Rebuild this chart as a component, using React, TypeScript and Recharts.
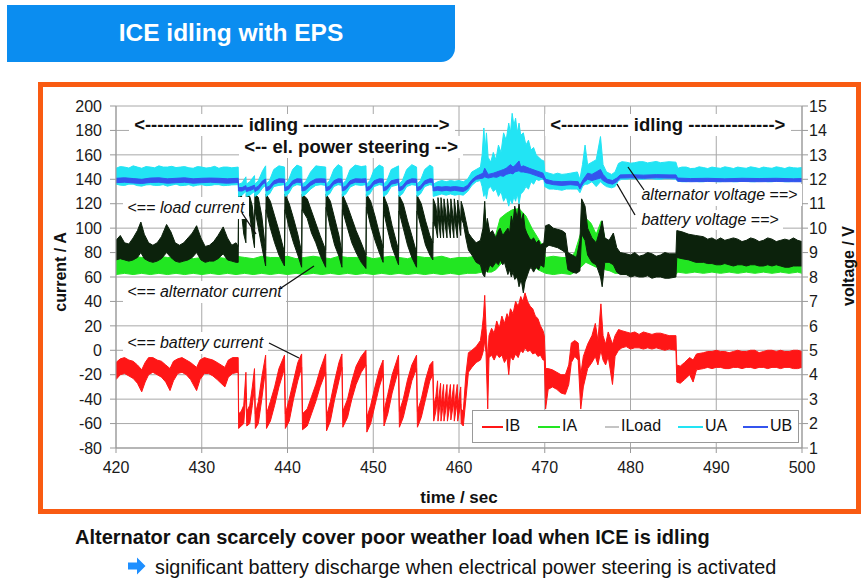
import { Area, CartesianGrid, ComposedChart, XAxis, YAxis } from "recharts"

// each row: [time s, low, high] of the noisy trace envelope
const ibBand = [
  [420, -24, -10], [420.5, -20, -7], [421, -19, -6], [421.5, -21, -8], [422, -23, -9], [422.5, -27, -12],
  [423, -34, -16], [423.4, -26, -10], [423.8, -20, -6], [424.3, -18, -6], [424.8, -20, -8], [425.3, -22, -9],
  [425.8, -26, -12], [426.3, -33, -15], [426.7, -25, -9], [427.2, -19, -7], [427.7, -18, -6], [428.2, -20, -8],
  [428.7, -24, -10], [429.4, -33, -14], [429.8, -24, -8], [430.3, -19, -6], [430.8, -19, -7], [431.3, -21, -8],
  [431.8, -24, -10], [432.7, -30, -14], [433.1, -22, -8], [433.6, -19, -6], [434.25, -18, -6],
  [434.3, -64, -52], [434.6, -62, -50], [434.9, -60, -45], [435.15, -35, -18],
  [435.25, -62, -50], [435.6, -60, -45], [435.9, -45, -30], [436.15, -30, -15],
  [436.25, -64, -52], [436.6, -60, -42], [437, -40, -22], [437.45, -15, -4],
  [437.55, -64, -52], [438, -58, -42], [438.5, -45, -30], [439, -30, -15], [439.65, -15, -4],
  [439.75, -64, -52], [440.2, -58, -40], [440.7, -40, -25], [441.2, -25, -10], [441.65, -14, -3],
  [441.75, -65, -52], [442.3, -62, -48], [442.8, -52, -38], [443.3, -42, -28], [443.8, -30, -16], [444.45, -18, -3],
  [444.55, -66, -54], [445, -58, -42], [445.5, -40, -25], [446, -25, -10], [446.35, -14, -3],
  [446.45, -63, -50], [447, -55, -40], [447.5, -40, -25], [448, -28, -13], [448.6, -18, -5], [449.15, -12, 0],
  [449.25, -67, -55], [449.7, -60, -45], [450.2, -45, -30], [450.7, -30, -16], [451.15, -20, -8],
  [451.25, -62, -50], [451.7, -52, -36], [452.2, -35, -20], [452.95, -16, -4],
  [453.05, -63, -50], [453.5, -55, -40], [454, -40, -24], [454.5, -25, -12], [455.05, -15, -4],
  [455.15, -63, -50], [455.6, -55, -40], [456.1, -40, -24], [456.6, -25, -12], [456.95, -20, -9],
  [457.05, -58, -45], [457.3, -50, -38], [457.5, -38, -25], [457.55, -58, -45], [457.85, -40, -27],
  [457.9, -58, -46], [458.2, -42, -28], [458.25, -58, -46], [458.6, -42, -28], [458.65, -58, -46],
  [459, -42, -28], [459.05, -57, -45], [459.4, -42, -28], [459.45, -58, -46], [459.8, -42, -28],
  [459.85, -58, -46], [460.2, -44, -30], [460.25, -60, -48], [460.5, -62, -50], [460.8, -40, -20],
  [461.1, -18, -2], [461.5, -14, 0], [462, -10, 3], [462.5, -8, 8], [462.7, -4, 18], [462.85, 0, 28],
  [463, 8, 45], [463.15, -2, 18], [463.35, -48, -8], [463.5, -6, 12], [463.8, -4, 18], [464.1, -8, 14],
  [464.4, -3, 24], [464.7, -6, 18], [465, -4, 28], [465.3, -10, 22], [465.6, -6, 30], [465.8, -20, 26],
  [466, -5, 34], [466.3, -8, 30], [466.6, -3, 40], [466.9, -6, 36], [467.2, 0, 44], [467.45, -2, 40],
  [467.7, 2, 47], [468, -1, 40], [468.3, 0, 36], [468.6, -3, 34], [468.9, -2, 28], [469.2, -5, 26],
  [469.5, -4, 20], [469.8, -8, 16], [469.95, -8, 12],
  [470.1, -48, -15], [470.4, -32, -15], [470.9, -30, -16], [471.4, -32, -18], [471.9, -35, -20],
  [472.4, -36, -20], [472.8, -28, -12], [473.1, -10, 6], [473.5, -5, 8], [473.9, -8, 6],
  [474.2, -48, -20], [474.5, -30, -5], [475, -15, 5], [475.5, -10, 12], [475.9, -5, 22], [476.2, -12, 8],
  [476.55, 0, 38], [476.8, -8, 12], [477.1, -12, 5], [477.4, -5, 15], [477.9, -28, 5], [478.2, -5, 12],
  [478.6, 0, 17], [479, 2, 16], [479.5, 3, 15], [480, 1, 14], [480.5, 2, 15], [481, 2, 13], [481.5, 1, 15],
  [482, 2, 14], [482.5, 1, 13], [483, 2, 14], [483.5, 1, 14], [484, 0, 13], [484.5, 1, 12], [485.3, 0, 12],
  [485.4, -26, -12], [485.8, -27, -13], [486.3, -24, -10], [486.9, -20, -6], [487.3, -26, -8],
  [487.7, -16, -3], [488.5, -15, -2], [489, -14, -1], [489.5, -15, -1], [490, -14, 0], [490.5, -14, -1],
  [491, -15, -1], [491.5, -15, -2], [492, -14, -1], [492.5, -14, 0], [493, -15, -1], [493.5, -14, -1],
  [494, -14, 0], [494.5, -15, 0], [495, -14, -2], [495.5, -14, -1], [496, -15, 0], [496.5, -14, 0],
  [497, -14, -1], [497.5, -15, 0], [498, -14, -1], [498.5, -14, -1], [499, -15, 0], [499.5, -15, 0], [500, -14, -1],
]

const iaBand = [
  [420, 62, 76], [421, 63, 75], [422, 62, 77], [423, 63, 76], [424, 62, 75], [425, 63, 77], [426, 62, 76],
  [427, 63, 76], [428, 62, 77], [429, 63, 75], [430, 62, 76], [431, 63, 77], [432, 62, 76], [433, 63, 75],
  [434, 62, 77], [435, 63, 76], [436, 62, 75], [437, 63, 77], [438, 62, 76], [439, 63, 76], [440, 62, 77],
  [441, 63, 75], [442, 62, 76], [443, 63, 77], [444, 62, 76], [445, 63, 75], [446, 62, 77], [447, 63, 76],
  [448, 62, 76], [449, 63, 77], [450, 62, 75], [451, 63, 76], [452, 62, 77], [453, 63, 76], [454, 62, 75],
  [455, 63, 77], [456, 62, 76], [457, 63, 76], [458, 62, 77], [459, 63, 75], [460, 62, 76], [461, 63, 76],
  [462, 63, 77], [462.7, 64, 80], [463, 66, 115], [463.3, 64, 90], [463.8, 64, 85], [464.3, 66, 95],
  [464.8, 70, 108], [465.5, 75, 112], [466.2, 78, 115], [467, 76, 116], [467.8, 74, 110], [468.5, 70, 100],
  [469.2, 66, 92], [469.8, 64, 85], [470.1, 63, 76], [471, 62, 77], [472, 63, 76], [473, 62, 76],
  [473.5, 64, 80], [474.2, 68, 96], [474.8, 72, 108], [475.4, 70, 104], [476, 68, 95], [476.6, 70, 106],
  [477, 66, 92], [477.6, 65, 86], [478.2, 63, 82], [478.8, 63, 77], [479.5, 62, 76], [480.5, 63, 77],
  [481.5, 62, 75], [482.5, 63, 76], [483.5, 62, 77], [484.5, 63, 76], [485.3, 62, 76], [485.5, 64, 78],
  [486.5, 63, 77], [487.5, 64, 78], [488.5, 63, 76], [489.5, 64, 77], [490.5, 63, 78], [491.5, 64, 77],
  [492.5, 63, 76], [493.5, 64, 78], [494.5, 63, 77], [495.5, 64, 76], [496.5, 63, 78], [497.5, 64, 77],
  [498.5, 63, 76], [499.5, 64, 78], [500, 63, 77],
]

const iloadBand = [
  [420, 74, 90], [420.5, 75, 94], [421, 74, 88], [421.5, 73, 87], [422, 74, 92], [422.5, 76, 98],
  [422.9, 80, 105], [423.3, 75, 95], [423.8, 73, 88], [424.3, 72, 86], [424.8, 73, 88], [425.3, 75, 93],
  [425.9, 80, 103], [426.4, 76, 97], [426.9, 73, 88], [427.4, 72, 86], [427.9, 73, 88], [428.4, 74, 92],
  [428.9, 76, 96], [429.4, 80, 102], [429.9, 74, 92], [430.4, 72, 85], [430.9, 73, 86], [431.4, 73, 89],
  [431.9, 75, 94], [432.5, 79, 101], [433, 74, 92], [433.5, 73, 86], [434, 72, 88], [434.25, 72, 85],
  [434.3, 118, 128], [434.6, 115, 127], [434.9, 95, 120], [435.15, 88, 105],
  [435.2, 115, 128], [435.6, 110, 126], [435.9, 95, 118], [436.15, 84, 100],
  [436.2, 115, 128], [436.6, 100, 125], [437, 85, 110], [437.45, 69, 82],
  [437.5, 115, 128], [438, 100, 122], [438.5, 88, 110], [439, 78, 98], [439.65, 69, 80],
  [439.7, 115, 128], [440.2, 100, 120], [440.7, 88, 108], [441.2, 78, 95], [441.65, 68, 80],
  [441.7, 115, 128], [442.3, 108, 124], [442.8, 96, 114], [443.3, 88, 104], [443.8, 78, 94], [444.45, 68, 82],
  [444.5, 117, 128], [445, 100, 122], [445.5, 86, 108], [446, 77, 94], [446.35, 68, 80],
  [446.4, 115, 128], [447, 100, 118], [447.5, 88, 108], [448, 80, 98], [448.6, 72, 88], [449.15, 67, 78],
  [449.2, 117, 128], [449.7, 102, 122], [450.2, 90, 110], [450.7, 80, 96], [451.15, 72, 84],
  [451.2, 114, 127], [451.7, 98, 118], [452.2, 84, 102], [452.95, 70, 82],
  [453, 114, 127], [453.5, 100, 120], [454, 86, 106], [454.5, 76, 94], [455.05, 68, 80],
  [455.1, 114, 127], [455.6, 100, 120], [456.1, 86, 106], [456.6, 78, 94], [456.95, 74, 88],
  [457, 105, 124], [457.3, 100, 118], [457.5, 92, 106], [457.55, 110, 125], [457.85, 92, 105],
  [457.9, 110, 125], [458.2, 92, 105], [458.25, 110, 124], [458.6, 92, 105], [458.65, 110, 124],
  [459, 92, 104], [459.05, 110, 124], [459.4, 92, 104], [459.45, 110, 124], [459.8, 92, 104],
  [459.85, 110, 123], [460.2, 94, 106], [460.25, 108, 122], [460.5, 104, 116], [460.8, 92, 106],
  [461.1, 82, 96], [461.5, 78, 92], [462, 72, 88], [462.5, 70, 90], [462.8, 62, 100], [463, 60, 122],
  [463.15, 68, 100], [463.3, 64, 108], [463.6, 70, 96], [463.9, 68, 98], [464.3, 72, 92], [464.6, 70, 98],
  [464.8, 74, 100], [465.1, 70, 94], [465.3, 72, 96], [465.7, 62, 100], [465.9, 66, 96], [466.1, 60, 110],
  [466.3, 64, 104], [466.5, 58, 118], [466.8, 60, 108], [467, 52, 120], [467.25, 58, 106], [467.5, 47, 112],
  [467.7, 56, 100], [467.9, 60, 96], [468.2, 66, 92], [468.4, 68, 90], [468.7, 64, 92], [469, 68, 88],
  [469.3, 66, 90], [469.5, 70, 86], [469.9, 68, 88],
  [470.1, 84, 102], [470.5, 86, 103], [471, 85, 100], [471.5, 84, 99], [472, 82, 98], [472.4, 80, 96],
  [472.7, 66, 80], [473.2, 64, 78], [473.7, 63, 76], [474.1, 65, 90], [474.3, 95, 124], [474.7, 90, 118],
  [475, 78, 100], [475.5, 72, 92], [476, 70, 88], [476.5, 60, 100], [476.7, 52, 106], [477, 72, 92],
  [477.5, 72, 90], [478, 70, 96], [478.4, 64, 84], [478.8, 62, 80], [479.5, 62, 79], [480, 60, 78],
  [480.5, 61, 80], [481, 60, 77], [481.5, 60, 78], [482, 61, 80], [482.5, 59, 79], [483, 60, 77],
  [483.5, 60, 78], [484, 59, 80], [484.5, 59, 79], [485.3, 60, 79],
  [485.4, 76, 98], [486, 75, 97], [486.8, 74, 95], [487.6, 72, 94], [488.5, 72, 93], [489, 71, 91],
  [489.5, 71, 92], [490, 70, 90], [490.5, 70, 92], [491, 71, 90], [491.5, 70, 91], [492, 69, 92],
  [492.5, 70, 91], [493, 70, 89], [493.5, 69, 90], [494, 70, 92], [494.5, 70, 91], [495, 69, 89],
  [495.5, 69, 90], [496, 70, 92], [496.5, 69, 91], [497, 70, 89], [497.5, 69, 90], [498, 68, 91],
  [498.5, 68, 90], [499, 69, 92], [499.5, 69, 90], [500, 69, 89],
]

const uaBand = [
  [420, 11.8, 12.45], [420.5, 11.76, 12.52], [421, 11.75, 12.5], [421.5, 11.8, 12.46], [422, 11.8, 12.55],
  [422.5, 11.74, 12.5], [423, 11.72, 12.45], [423.5, 11.77, 12.52], [424, 11.78, 12.5], [424.5, 11.75, 12.47],
  [425, 11.75, 12.55], [425.5, 11.78, 12.5], [426, 11.72, 12.5], [426.5, 11.76, 12.53], [427, 11.8, 12.48],
  [427.5, 11.74, 12.5], [428, 11.75, 12.52], [428.5, 11.78, 12.47], [429, 11.72, 12.45], [429.5, 11.76, 12.52],
  [430, 11.78, 12.5], [430.5, 11.74, 12.46], [431, 11.75, 12.48], [431.5, 11.78, 12.53], [432, 11.78, 12.45],
  [432.5, 11.74, 12.5], [433, 11.75, 12.5], [433.5, 11.77, 12.47], [434.25, 11.78, 12.5],
  [434.3, 11.3, 11.8], [434.7, 11.35, 11.85], [435.15, 11.5, 12.1], [435.2, 11.3, 11.8], [435.6, 11.35, 11.9],
  [436.15, 11.5, 12.15], [436.2, 11.3, 11.8], [436.6, 11.4, 11.95], [437.1, 11.65, 12.35], [437.45, 11.75, 12.55],
  [437.5, 11.3, 11.8], [437.9, 11.4, 11.95], [438.4, 11.7, 12.4], [439, 11.75, 12.55], [439.65, 11.78, 12.5],
  [439.7, 11.3, 11.8], [440.1, 11.4, 11.95], [440.6, 11.7, 12.4], [441.1, 11.78, 12.58], [441.65, 11.75, 12.5],
  [441.7, 11.3, 11.8], [442.1, 11.38, 11.9], [442.7, 11.6, 12.3], [443.3, 11.75, 12.55], [443.9, 11.78, 12.52],
  [444.45, 11.75, 12.5], [444.5, 11.3, 11.78], [444.9, 11.4, 11.95], [445.4, 11.7, 12.4], [445.9, 11.78, 12.6],
  [446.35, 11.75, 12.5], [446.4, 11.3, 11.8], [446.8, 11.4, 11.95], [447.3, 11.68, 12.4], [447.9, 11.78, 12.58],
  [448.6, 11.75, 12.52], [449.15, 11.78, 12.55], [449.2, 11.3, 11.78], [449.6, 11.4, 11.95], [450.1, 11.7, 12.4],
  [450.7, 11.78, 12.58], [451.15, 11.75, 12.5], [451.2, 11.3, 11.8], [451.6, 11.4, 11.95], [452.1, 11.7, 12.4],
  [452.95, 11.78, 12.55], [453, 11.3, 11.8], [453.4, 11.4, 11.95], [453.9, 11.7, 12.4], [454.5, 11.78, 12.6],
  [455.05, 11.75, 12.5], [455.1, 11.3, 11.8], [455.5, 11.4, 11.95], [456, 11.7, 12.4], [456.6, 11.78, 12.58],
  [456.95, 11.75, 12.5], [457, 11.3, 11.8], [457.5, 11.35, 11.9], [458, 11.4, 11.95], [458.5, 11.35, 11.9],
  [459, 11.4, 11.95], [459.5, 11.35, 11.92], [460, 11.38, 11.95], [460.5, 11.35, 11.9],
  [461, 11.5, 12], [461.5, 11.75, 12.3], [462, 11.9, 12.4], [462.5, 11.95, 12.5], [462.7, 11.7, 13],
  [462.9, 11.3, 14.1], [463.05, 11.5, 13.2], [463.2, 11.2, 13.9], [463.4, 11.6, 12.9], [463.7, 11.7, 12.7],
  [464, 11.5, 13.1], [464.3, 11.6, 12.8], [464.6, 11.3, 13.4], [464.9, 11.5, 13.1], [465.2, 11.1, 13.9],
  [465.5, 11.3, 13.6], [465.8, 10.9, 14.3], [466, 11.2, 13.9], [466.2, 11, 14.7], [466.4, 11.3, 14.2],
  [466.6, 11.1, 14.5], [466.8, 11.4, 13.9], [467, 11, 14.3], [467.2, 11.4, 13.8], [467.5, 11.5, 13.9],
  [467.8, 11.7, 13.4], [468.1, 11.6, 13.6], [468.4, 11.9, 13.2], [468.7, 11.8, 13.3], [469, 12, 13],
  [469.3, 11.95, 12.9], [469.6, 12, 12.8], [469.9, 12, 12.75],
  [470, 11.7, 12.3], [470.5, 11.6, 12.25], [471, 11.6, 12.2], [471.5, 11.58, 12.25], [472, 11.55, 12.2],
  [472.5, 11.6, 12.22], [473, 11.6, 12.25], [473.8, 11.6, 12.3], [474.1, 11.45, 12], [474.4, 11.7, 12.6],
  [474.7, 11.8, 13.4], [475, 11.8, 12.6], [475.5, 11.9, 12.7], [476, 11.7, 12.8], [476.5, 11.9, 13.75],
  [476.8, 11.8, 12.6], [477.2, 11.7, 12.3], [477.8, 11.65, 12.2], [478.2, 11.7, 12.3], [478.6, 11.95, 12.65],
  [479, 12, 12.72], [479.5, 12, 12.7], [480, 12.02, 12.66], [480.5, 12.02, 12.68], [481, 12, 12.72],
  [481.5, 12, 12.72], [482, 12.02, 12.67], [482.5, 12.02, 12.7], [483, 12, 12.73], [483.5, 12, 12.68],
  [484, 12.02, 12.7], [484.5, 12.02, 12.72], [485.3, 12, 12.7], [485.5, 11.92, 12.45], [486, 11.9, 12.5],
  [486.5, 11.9, 12.5], [487, 11.92, 12.44], [487.5, 11.92, 12.45], [488, 11.9, 12.51], [488.5, 11.9, 12.48],
  [489, 11.92, 12.44], [489.5, 11.92, 12.5], [490, 11.9, 12.47], [490.5, 11.9, 12.45], [491, 11.92, 12.51],
  [491.5, 11.92, 12.48], [492, 11.9, 12.44], [492.5, 11.9, 12.5], [493, 11.92, 12.47], [493.5, 11.92, 12.45],
  [494, 11.9, 12.51], [494.5, 11.9, 12.48], [495, 11.92, 12.44], [495.5, 11.92, 12.5], [496, 11.9, 12.47],
  [496.5, 11.9, 12.45], [497, 11.92, 12.51], [497.5, 11.92, 12.48], [498, 11.9, 12.44], [498.5, 11.9, 12.5],
  [499, 11.92, 12.47], [499.5, 11.92, 12.46], [500, 11.9, 12.48],
]

const ubBand = [
  [420, 11.86, 12.04], [421, 11.88, 12.06], [422, 11.85, 12.03], [423, 11.83, 12], [424, 11.87, 12.05],
  [425, 11.88, 12.06], [426, 11.84, 12.02], [427, 11.86, 12.04], [428, 11.88, 12.06], [429, 11.84, 12.02],
  [430, 11.86, 12.04], [431, 11.88, 12.05], [432, 11.86, 12.04], [433, 11.84, 12.02], [434.25, 11.87, 12.04],
  [434.3, 11.52, 11.66], [434.7, 11.52, 11.66], [435.15, 11.6, 11.74], [435.2, 11.5, 11.64], [435.6, 11.54, 11.68],
  [436.15, 11.62, 11.76], [436.2, 11.5, 11.64], [436.6, 11.58, 11.72], [437.1, 11.8, 11.94], [437.45, 11.87, 12.01],
  [437.5, 11.52, 11.66], [437.9, 11.58, 11.72], [438.4, 11.8, 11.94], [439, 11.88, 12.02], [439.65, 11.87, 12.01],
  [439.7, 11.52, 11.66], [440.1, 11.58, 11.72], [440.6, 11.8, 11.94], [441.1, 11.88, 12.02], [441.65, 11.87, 12.01],
  [441.7, 11.52, 11.66], [442.1, 11.56, 11.7], [442.7, 11.75, 11.9], [443.3, 11.87, 12.01], [443.9, 11.88, 12.02],
  [444.45, 11.87, 12.01], [444.5, 11.52, 11.66], [444.9, 11.58, 11.72], [445.4, 11.8, 11.94], [445.9, 11.88, 12.02],
  [446.35, 11.87, 12.01], [446.4, 11.52, 11.66], [446.8, 11.58, 11.72], [447.3, 11.8, 11.94], [447.9, 11.88, 12.02],
  [448.6, 11.87, 12.01], [449.15, 11.88, 12.02], [449.2, 11.52, 11.66], [449.6, 11.58, 11.72], [450.1, 11.8, 11.94],
  [450.7, 11.88, 12.02], [451.15, 11.87, 12.01], [451.2, 11.52, 11.66], [451.6, 11.58, 11.72], [452.1, 11.8, 11.94],
  [452.95, 11.87, 12.01], [453, 11.52, 11.66], [453.4, 11.58, 11.72], [453.9, 11.8, 11.94], [454.5, 11.88, 12.02],
  [455.05, 11.87, 12.01], [455.1, 11.52, 11.66], [455.5, 11.58, 11.72], [456, 11.8, 11.94], [456.6, 11.88, 12.02],
  [456.95, 11.87, 12.01], [457, 11.52, 11.66], [457.5, 11.55, 11.7], [458, 11.52, 11.68], [458.5, 11.55, 11.7],
  [459, 11.52, 11.68], [459.5, 11.55, 11.7], [460, 11.52, 11.68], [460.5, 11.5, 11.65],
  [461, 11.6, 11.75], [461.5, 11.85, 11.98], [462, 12, 12.12], [462.8, 12.05, 12.25], [463, 12.1, 12.45],
  [463.4, 12.05, 12.2], [464, 12.1, 12.25], [464.4, 12.08, 12.3], [464.8, 12.15, 12.35], [465.2, 12.12, 12.4],
  [465.5, 12.2, 12.45], [466, 12.25, 12.6], [466.3, 12.22, 12.5], [466.5, 12.3, 12.55], [467, 12.35, 12.75],
  [467.2, 12.3, 12.5], [467.5, 12.3, 12.55], [468.2, 12.25, 12.45], [469, 12.15, 12.35],
  [469.8, 12.05, 12.25], [470.1, 11.85, 12], [471, 11.78, 11.92], [472, 11.75, 11.9], [473, 11.78, 11.92],
  [473.9, 11.75, 11.9], [474.1, 11.6, 11.75], [474.5, 11.85, 12], [475, 12, 12.25], [475.5, 11.95, 12.2],
  [476, 12, 12.3], [476.5, 12.05, 12.4], [476.8, 11.95, 12.2], [477.3, 11.85, 12], [477.9, 11.8, 11.95],
  [478.4, 11.9, 12.05], [478.8, 12.05, 12.18], [480, 12.06, 12.19], [481.5, 12.04, 12.17], [483, 12.06, 12.19],
  [484.5, 12.05, 12.18], [485.3, 12.05, 12.18], [485.5, 11.92, 12.05], [487, 11.9, 12.03], [489, 11.91, 12.04],
  [491, 11.9, 12.02], [493, 11.91, 12.04], [495, 11.9, 12.03], [497, 11.91, 12.04], [499, 11.9, 12.02],
  [500, 11.9, 12.03],
]

const timeTicks = [420, 430, 440, 450, 460, 470, 480, 490, 500]
const currentTicks = [-80, -60, -40, -20, 0, 20, 40, 60, 80, 100, 120, 140, 160, 180, 200]
const voltTicks = [1, 2, 3, 4, 5, 6, 7, 8, 9, 10, 11, 12, 13, 14, 15]

const legendItems = [
  { name: "IB", color: "#ff1616", x: 482, w: 21 },
  { name: "IA", color: "#22e622", x: 538, w: 22 },
  { name: "ILoad", color: "#c4c4c4", x: 605, w: 14 },
  { name: "UA", color: "#22e4f4", x: 678, w: 25 },
  { name: "UB", color: "#3454ee", x: 743, w: 25 },
]

const toRows = (band: number[][]) => band.map(([t, lo, hi]) => ({ t, v: [lo, hi] }))

const FONT = "'Liberation Sans', Arial, sans-serif"
const tickStyle = { fontSize: 16, fill: "#1a1a1a", fontFamily: FONT }

const boxLabel = (left: number, top: number, h: number, size: number, bold: boolean) => ({
  position: "absolute" as const,
  left,
  top,
  height: h,
  lineHeight: h + "px",
  fontSize: size,
  fontWeight: bold ? 700 : 400,
  background: "#fff",
  color: "#111",
  whiteSpace: "pre" as const,
  fontFamily: FONT,
})

export default function App() {
  return (
    <div style={{ position: "absolute", left: 0, top: 0, width: 862, height: 581, background: "#fff", fontFamily: FONT, overflow: "hidden" }}>
      {/* title tab */}
      <div style={{ position: "absolute", left: 7, top: 5, width: 448, height: 57, background: "#0b8df0", borderBottomRightRadius: 14, color: "#fff", fontWeight: 700, fontSize: 24.5, lineHeight: "55px", textAlign: "center" }}>
        ICE idling with EPS
      </div>

      {/* orange frame */}
      <div style={{ position: "absolute", left: 38, top: 82, width: 823, height: 432, border: "5px solid #f95b12", boxSizing: "border-box" }} />

      <div style={{ position: "absolute", left: 0, top: 0 }}>
        <ComposedChart width={862} height={581} margin={{ top: 106, right: 20, bottom: 103, left: 60 }} style={{ fontFamily: FONT }}>
          <CartesianGrid yAxisId="a" stroke="#a8a8a8" />
          <XAxis dataKey="t" type="number" domain={[420, 500]} ticks={timeTicks} interval={0} allowDataOverflow
            tick={tickStyle} tickSize={5} tickMargin={9} axisLine={{ stroke: "#999" }} tickLine={{ stroke: "#999" }} />
          <YAxis yAxisId="a" domain={[-80, 200]} ticks={currentTicks} interval={0} width={56} allowDataOverflow
            tick={tickStyle} tickSize={6} tickMargin={8} axisLine={{ stroke: "#999" }} tickLine={{ stroke: "#999" }} />
          <YAxis yAxisId="v" orientation="right" domain={[1, 15]} ticks={voltTicks} interval={0} width={40} allowDataOverflow
            tick={tickStyle} tickSize={6} tickMargin={1} axisLine={{ stroke: "#999" }} tickLine={{ stroke: "#999" }} />
          <Area yAxisId="a" data={toRows(ibBand)} dataKey="v" type="linear" stroke="#ff1616" strokeWidth={1} fill="#ff1616" fillOpacity={1} dot={false} activeDot={false} isAnimationActive={false} />
          <Area yAxisId="a" data={toRows(iaBand)} dataKey="v" type="linear" stroke="#22e622" strokeWidth={1} fill="#22e622" fillOpacity={1} dot={false} activeDot={false} isAnimationActive={false} />
          <Area yAxisId="a" data={toRows(iloadBand)} dataKey="v" type="linear" stroke="#0c220c" strokeWidth={1} fill="#0c220c" fillOpacity={1} dot={false} activeDot={false} isAnimationActive={false} />
          <Area yAxisId="v" data={toRows(uaBand)} dataKey="v" type="linear" stroke="#22e4f4" strokeWidth={1} fill="#22e4f4" fillOpacity={1} dot={false} activeDot={false} isAnimationActive={false} />
          <Area yAxisId="v" data={toRows(ubBand)} dataKey="v" type="linear" stroke="#3454ee" strokeWidth={1} fill="#3454ee" fillOpacity={1} dot={false} activeDot={false} isAnimationActive={false} />
        </ComposedChart>
      </div>

      {/* annotations */}
      <div style={boxLabel(129, 114, 22, 18.5, true)}> {"<---------------- idling ---------------------->"} </div>
      <div style={boxLabel(239, 136, 22, 18.5, true)}> {"<-- el. power steering -->"} </div>
      <div style={boxLabel(545, 114, 22, 18.5, true)}> {"<----------- idling -------------->"} </div>
      <div style={boxLabel(123, 197, 22, 16, false)}> {"<== "}<i>load current</i> </div>
      <div style={boxLabel(123, 281, 22, 16, false)}> {"<== "}<i>alternator current</i> </div>
      <div style={boxLabel(123, 332, 22, 16, false)}> {"<== "}<i>battery current</i> </div>
      <div style={boxLabel(637, 184, 22, 16, false)}> <i>alternator voltage</i>{" ==>"} </div>
      <div style={boxLabel(637, 210, 20, 16, false)}> <i>battery voltage</i>{" ==>"} </div>

      <svg width={862} height={581} style={{ position: "absolute", left: 0, top: 0, pointerEvents: "none" }}>
        <g stroke="#111" strokeWidth={1.3}>
          <line x1={242} y1={213} x2={256} y2={234} />
          <line x1={281} y1={288} x2={314} y2={266} />
          <line x1={269} y1={343} x2={299} y2={358} />
          <line x1={628} y1={167} x2={644} y2={190} />
          <line x1={617} y1={184} x2={635} y2={215} />
        </g>
        <text transform="translate(66,272) rotate(-90)" textAnchor="middle" fontSize={16} fontWeight={700} fill="#111" fontFamily={FONT}>current / A</text>
        <text transform="translate(854,266) rotate(-90)" textAnchor="middle" fontSize={16} fontWeight={700} fill="#111" fontFamily={FONT}>voltage / V</text>
        <text x={459} y={503} textAnchor="middle" fontSize={17} fontWeight={700} fill="#111" fontFamily={FONT}>time / sec</text>
        <polygon points="128,562.5 137,562.5 137,557.5 145.5,566 137,574.5 137,569.5 128,569.5" fill="#1e8fff" />
      </svg>

      {/* legend */}
      <div style={{ position: "absolute", left: 472, top: 410, width: 327, height: 33, border: "1px solid #999", background: "#fff", boxSizing: "border-box" }} />
      {legendItems.map((it) => (
        <div key={it.name}>
          <div style={{ position: "absolute", left: it.x, top: 426, width: it.w, height: 2, background: it.color }} />
          <div style={{ position: "absolute", left: it.x + it.w + 2, top: 416, lineHeight: "20px", fontSize: 16, color: "#111" }}>{it.name}</div>
        </div>
      ))}

      {/* bottom text */}
      <div style={{ position: "absolute", left: 75, top: 525, lineHeight: "24px", fontSize: 20, fontWeight: 700, color: "#111", whiteSpace: "nowrap" }}>
        Alternator can scarcely cover poor weather load when ICE is idling
      </div>
      <div style={{ position: "absolute", left: 155, top: 555, lineHeight: "24px", fontSize: 19.8, color: "#111", whiteSpace: "nowrap" }}>
        significant battery discharge when electrical power steering is activated
      </div>
    </div>
  )
}
